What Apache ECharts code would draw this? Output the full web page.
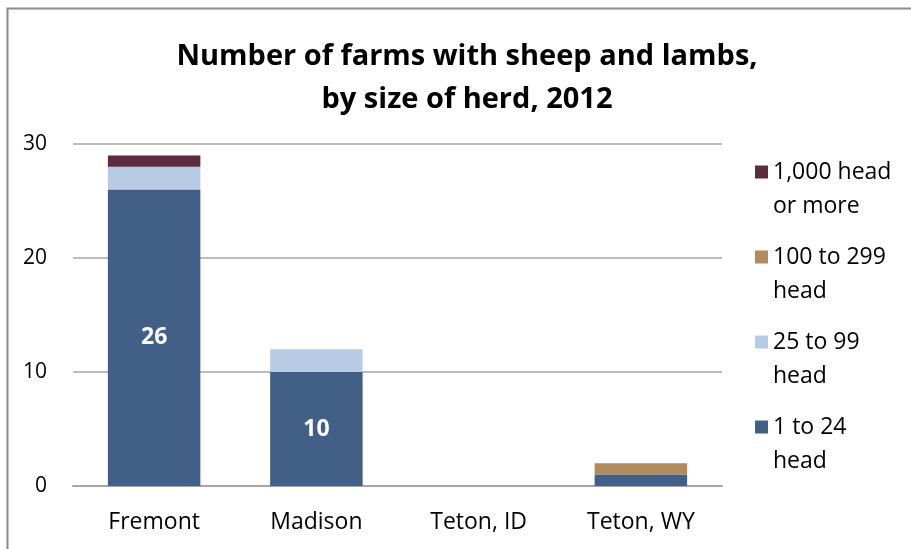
<!DOCTYPE html>
<html><head><meta charset="utf-8">
<script src="https://cdn.jsdelivr.net/npm/echarts@6/dist/echarts.min.js"></script>
<style>html,body{margin:0;padding:0;background:#fff}#c{width:911px;height:549px}</style>
</head><body><div id="c"></div>
<script>
const categories = ['Fremont', 'Madison', 'Teton, ID', 'Teton, WY'];
const seriesNames = ['1 to 24 head', '25 to 99 head', '100 to 299 head', '1,000 head or more'];
const legendLabels = {'1,000 head or more': '\n1,000 head\nor more', '100 to 299 head': '\n100 to 299\nhead', '25 to 99 head': '\n25 to 99\nhead', '1 to 24 head': '\n1 to 24\nhead'};
const small = [26, 10, 0, 1];
const medium = [2, 2, 0, 0];
const large = [0, 0, 0, 1];
const huge = [1, 0, 0, 0];
const yTicks = [0, 10, 20, 30];
const colors = ['#426087', '#b7cce4', '#b08b5c', '#5c2b40'];
const values = [small, medium, large, huge];

const chart = echarts.init(document.getElementById('c'));
const font = '"Open Sans", sans-serif';
chart.setOption({
  animation: false,
  title: {
    text: 'Number of farms with sheep and lambs,\nby size of herd, 2012',
    left: 462, top: 30, textAlign: 'center',
    textStyle: {fontFamily: font, fontSize: 29, fontWeight: 'bold', color: '#000', lineHeight: 43}
  },
  graphic: [{
    type: 'rect', shape: {x: 7.5, y: 8.5, width: 920, height: 560},
    style: {fill: 'none', stroke: '#8a8a8a', lineWidth: 2}, silent: true, z: -1
  }],
  legend: {
    orient: 'vertical', left: 750, top: 116,
    data: seriesNames.slice().reverse(),
    itemWidth: 13, itemHeight: 13, itemGap: -17, icon: 'rect',
    formatter: n => legendLabels[n],
    textStyle: {fontFamily: font, fontSize: 23, color: '#000', lineHeight: 34}
  },
  grid: {left: 73, right: 189, top: 144, bottom: 63},
  xAxis: {
    type: 'category', data: categories,
    axisLine: {lineStyle: {color: '#a6a6a6', width: 2}},
    axisTick: {show: false},
    axisLabel: {fontFamily: font, fontSize: 23, color: '#000', margin: 25}
  },
  yAxis: {
    type: 'value', min: 0, max: 30, interval: 10,
    axisLine: {show: false}, axisTick: {show: false},
    axisLabel: {fontFamily: font, fontSize: 21, color: '#000', margin: 26,
      formatter: v => yTicks.includes(v) ? String(v) : ''},
    splitLine: {lineStyle: {color: '#a6a6a6', width: 1.5}}
  },
  series: values.map((vals, i) => ({
    name: seriesNames[i], type: 'bar', stack: 'total', barWidth: '57%',
    data: vals, itemStyle: {color: colors[i]},
    label: i === 0 ? {show: true, position: 'inside', color: '#fff', fontFamily: font, fontSize: 23, fontWeight: 'bold',
      formatter: p => p.value >= 5 ? String(p.value) : ''} : {show: false}
  }))
});
</script></body></html>
